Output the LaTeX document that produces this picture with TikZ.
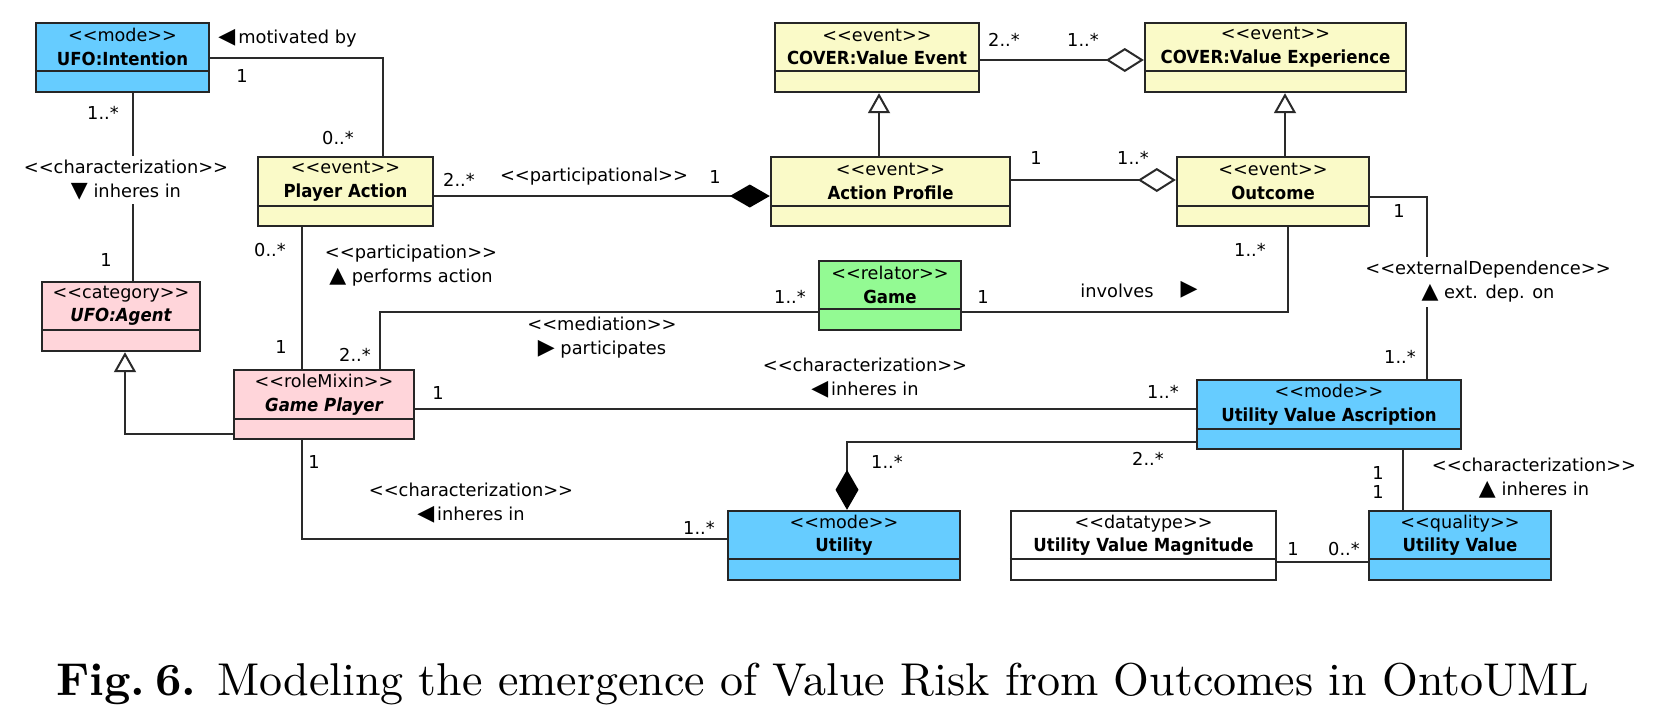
\documentclass[tikz,border=0pt]{standalone}
\usepackage{fontspec}
\usetikzlibrary{arrows.meta,fit}
\newfontfamily\dv{DejaVu Sans}
\newfontfamily\clsb[FakeStretch=0.92]{DejaVu Sans}
\newfontfamily\capfont{lmroman10-regular}[Extension=.otf, BoldFont=lmroman10-bold]
\definecolor{modeblue}{HTML}{66CCFF}
\definecolor{eventyel}{HTML}{FAFAC8}
\definecolor{rolepink}{HTML}{FFD5DA}
\definecolor{relgreen}{HTML}{93FA93}
\definecolor{linegray}{HTML}{2A2A2A}
\newcommand\tri[1]{{\fontsize{11}{11}\selectfont #1}}
\newcommand\st[1]{<\kern0pt<#1>\kern0pt>}
\newcommand\ttl[1]{{\clsb\bfseries\fontsize{9}{11.75}\selectfont #1}}
\newcommand\ttli[1]{{\clsb\bfseries\itshape\fontsize{9}{11.75}\selectfont #1}}
\tikzset{
  cls/.style={draw=black!85, line width=1.2pt, inner sep=0pt},
  divline/.style={draw=black!85, line width=1.1pt},
  boxtext/.style={align=center, inner sep=0pt, font=\dv\fontsize{8.8}{11.75}\selectfont},
  conn/.style={draw=linegray, line width=1pt},
  lbl/.style={inner sep=1pt, align=center, font=\dv\fontsize{8.9}{12}\selectfont},
  wlbl/.style={lbl, fill=white, inner sep=2pt},
  comptip/.tip={Diamond[length=20pt,width=11.5pt,black]},
  aggtip/.tip={Diamond[open,length=19pt,width=12pt,fill=white]},
  gentip/.tip={Triangle[open,length=10pt,width=11pt,fill=white]}
}
% name, x1, y1, x2, y2, ydiv, fill, stereotype, title
\newcommand\umlclass[9]{%
  \node[cls, fill=#7, fit={(#2,#3) (#4,#5)}] (#1) {};
  \draw[divline] (#1.west |- 0,#6) -- (#1.east |- 0,#6);
  \node[boxtext] (#1-t) at ({(#2+#4)/2},{(#3+#6)/2}) {\st{#8}\\#9};
}
\begin{document}
\begin{tikzpicture}[x=0.5pt,y=-0.5pt]
\useasboundingbox (0,0) rectangle (1665,725);
\fill[white] (0,0) rectangle (1665,725);

% classes
\umlclass{int}{36}{23}{209}{92}{71}{modeblue}{mode}{\ttl{UFO:Intention}}
\umlclass{pa}{258}{157}{433}{226}{206}{eventyel}{event}{\ttl{Player Action}}
\umlclass{ve}{775}{23}{979}{92}{71}{eventyel}{event}{\ttl{COVER:Value Event}}
\umlclass{vx}{1145}{23}{1406}{92}{71}{eventyel}{event}{\ttl{COVER:Value Experience}}
\umlclass{ap}{771}{157}{1010}{226}{206}{eventyel}{event}{\ttl{Action Profile}}
\umlclass{oc}{1177}{157}{1369}{226}{206}{eventyel}{event}{\ttl{Outcome}}
\umlclass{ag}{42}{282}{200}{351}{330}{rolepink}{category}{\ttli{UFO:Agent}}
\umlclass{gp}{234}{370}{414}{439}{419}{rolepink}{roleMixin}{\ttli{Game Player}}
\umlclass{gm}{819}{261}{961}{330}{309}{relgreen}{relator}{\ttl{Game}}
\umlclass{uva}{1197}{380}{1461}{449}{429}{modeblue}{mode}{\ttl{Utility Value Ascription}}
\umlclass{ut}{728}{511}{960}{580}{559}{modeblue}{mode}{\ttl{Utility}}
\umlclass{uvm}{1011}{511}{1276}{580}{559}{white}{datatype}{\ttl{Utility Value Magnitude}}
\umlclass{uv}{1369}{511}{1551}{580}{559}{modeblue}{quality}{\ttl{Utility Value}}

% connectors
\draw[conn] (int.east) -| (pa.north -| 383,0);
\draw[conn] (int.south -| 133,0) -- (ag.north -| 133,0);
\draw[conn, -{comptip}] (pa.east |- 0,196) -- (ap.west |- 0,196);
\draw[conn, -{aggtip}] (ve.east |- 0,60) -- (vx.west |- 0,60);
\draw[conn, -{gentip}] (ap.north -| 879,0) -- (ve.south -| 879,0);
\draw[conn, -{gentip}] (oc.north -| 1285,0) -- (vx.south -| 1285,0);
\draw[conn, -{aggtip}] (ap.east |- 0,180) -- (oc.west |- 0,180);
\draw[conn] (oc.east |- 0,197) -| (uva.north -| 1427,0);
\draw[conn] (oc.south -| 1288,0) |- (gm.east |- 0,312);
\draw[conn] (gp.north -| 380,0) |- (gm.west |- 0,312);
\draw[conn] (pa.south -| 302,0) -- (gp.north -| 302,0);
\draw[conn, -{gentip}] (gp.west |- 0,434) -| (ag.south -| 125,0);
\draw[conn] (gp.east |- 0,409) -- (uva.west |- 0,409);
\draw[conn, {comptip}-] (ut.north -| 847,0) |- (uva.west |- 0,442);
\draw[conn] (gp.south -| 302,0) |- (ut.west |- 0,539);
\draw[conn] (uva.south -| 1403,0) -- (uv.north -| 1403,0);
\draw[conn] (uvm.east |- 0,562) -- (uv.west |- 0,562);

% labels
\node[lbl, anchor=west] (l1) at (216,38) {\tri{◀}\,motivated by};
\node[lbl] (l2) at (242,76) {1};
\node[lbl] (l3) at (338,138) {0..*};
\node[lbl] (l4) at (103,113) {1..*};
\node[wlbl] (l5) at (126,180) {\st{characterization}\\\tri{▼} inheres in};
\node[lbl] (l6) at (106,260) {1};
\node[lbl] (l7) at (459,180) {2..*};
\node[lbl] (l8) at (594,177) {\st{participational}};
\node[lbl] (l9) at (715,177) {1};
\node[lbl] (l10) at (1004,40) {2..*};
\node[lbl] (l11) at (1083,40) {1..*};
\node[lbl] (l12) at (1036,158) {1};
\node[lbl] (l13) at (1133,158) {1..*};
\node[lbl] (l14) at (1399,211) {1};
\node[wlbl] (l15) at (1488,282) {\st{externalDependence}\\\tri{▲} ext. dep. on};
\node[lbl] (l16) at (1400,357) {1..*};
\node[lbl] (l17) at (1250,250) {1..*};
\node[lbl] (l18) at (1117,291) {involves};
\node[lbl] (l19) at (1189,290) {\tri{▶}};
\node[lbl] (l20) at (983,297) {1};
\node[lbl] (l21) at (790,297) {1..*};
\node[lbl] (l22) at (602,338) {\st{mediation}\\\tri{▶} participates};
\node[lbl] (l23) at (355,355) {2..*};
\node[lbl] (l24) at (270,250) {0..*};
\node[lbl] (l25) at (281,347) {1};
\node[lbl] (l26) at (411,266) {\st{participation}\\\tri{▲} performs action};
\node[lbl] (l27) at (438,393) {1};
\node[lbl] (l28) at (1163,392) {1..*};
\node[lbl] (l29) at (865,378) {\st{characterization}\\\tri{◀}\,inheres in};
\node[lbl] (l30) at (887,462) {1..*};
\node[lbl] (l31) at (1148,459) {2..*};
\node[lbl] (l32) at (314,462) {1};
\node[lbl] (l33) at (471,503) {\st{characterization}\\\tri{◀}\,inheres in};
\node[lbl] (l34) at (699,528) {1..*};
\node[lbl] (l35) at (1378,473) {1};
\node[lbl] (l36) at (1378,492) {1};
\node[lbl] (l37) at (1534,478) {\st{characterization}\\\tri{▲} inheres in};
\node[lbl] (l38) at (1293,549) {1};
\node[lbl] (l39) at (1344,549) {0..*};

% caption
\node[anchor=base, inner sep=0pt, font=\capfont\fontsize{23}{27}\selectfont] (cap) at (822.5,695)
  {\textbf{Fig.\hspace{0.22em}6.} Modeling the emergence of Value Risk from Outcomes in OntoUML};
\end{tikzpicture}
\end{document}
